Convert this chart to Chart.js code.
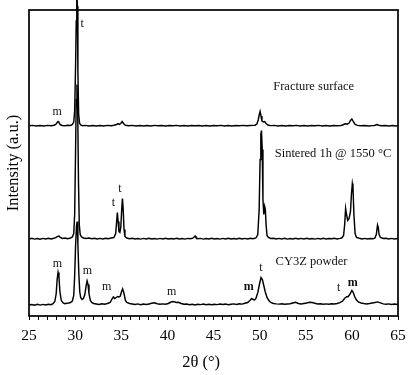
<!DOCTYPE html>
<html>
<head>
<meta charset="utf-8">
<script src="https://cdn.jsdelivr.net/npm/chart.js@4/dist/chart.umd.min.js"></script>
<style>
html,body{margin:0;padding:0;background:#fff;}
#wrap{width:414px;height:375px;position:relative;}
</style>
</head>
<body>
<div id="wrap"><canvas id="c" width="414" height="375"></canvas></div>
<script>
// ---- data (2θ in degrees, intensity in arbitrary units above each pattern's baseline) ----
const fracture = [
[25.0,0.2],[25.4,0.6],[25.8,0.0],[26.2,0.5],[26.6,0.1],[27.0,0.6],[27.4,0.3],[27.7,0.8],[27.9,1.6],[28.05,3.5],[28.15,4.5],[28.25,3.5],[28.4,1.2],[28.6,0.5],[28.9,0.3],[29.2,0.7],[29.5,0.6],[29.7,1.5],[29.85,4],[29.95,15],[30.05,60],[30.12,105],[30.18,140],[30.24,120],[30.3,55],[30.38,12],[30.48,3],[30.6,1],[30.8,0.3],[31.1,0.6],[31.5,0.1],[31.9,0.5],[32.3,0.0],[32.7,0.5],[33.1,0.1],[33.5,0.6],[33.9,0.3],[34.2,0.8],[34.5,1.5],[34.65,2.4],[34.8,1.6],[34.95,2.5],[35.1,4.5],[35.25,2.5],[35.45,0.8],[35.8,0.3],[36.2,0.6],[36.6,0.1],[37.0,0.5],[37.4,0.0],[37.8,0.4],[38.2,0.1],[38.6,0.6],[39.0,0.2],[39.4,0.5],[39.8,0.0],[40.2,0.4],[40.6,0.2],[41.0,0.6],[41.4,0.1],[41.8,0.5],[42.2,0.0],[42.6,0.4],[43.0,0.2],[43.4,0.5],[43.8,0.0],[44.2,0.4],[44.6,0.1],[45.0,0.5],[45.4,0.2],[45.8,0.6],[46.2,0.1],[46.6,0.4],[47.0,0.0],[47.4,0.5],[47.8,0.2],[48.2,0.6],[48.6,0.3],[49.0,0.5],[49.3,0.6],[49.5,0.8],[49.7,2],[49.85,6],[49.95,11],[50.05,14.5],[50.15,10],[50.25,5],[50.4,4],[50.55,4.5],[50.7,2.5],[50.9,1],[51.2,0.4],[51.6,0.6],[52.0,0.1],[52.4,0.5],[52.8,0.0],[53.2,0.4],[53.6,0.2],[54.0,0.6],[54.4,0.1],[54.8,0.5],[55.2,0.0],[55.6,0.4],[56.0,0.2],[56.4,0.6],[56.8,0.1],[57.2,0.5],[57.6,0.0],[58.0,0.4],[58.4,0.2],[58.8,0.5],[59.0,1],[59.2,2],[59.35,2.2],[59.5,1.8],[59.7,3],[59.85,5.5],[60.0,7],[60.15,4.5],[60.35,1.5],[60.6,0.6],[61.0,0.2],[61.4,0.5],[61.8,0.0],[62.2,0.4],[62.45,0.5],[62.6,1],[62.75,1.5],[62.9,0.8],[63.2,0.3],[63.6,0.5],[64.0,0.0],[64.4,0.4],[64.8,0.1],[65.0,0.4]
];
const sintered = [
[25.0,0.5],[25.3,1.2],[25.6,0.4],[25.9,1.0],[26.2,0.3],[26.5,1.1],[26.8,0.5],[27.1,1.2],[27.4,0.6],[27.7,1.3],[27.9,1.8],[28.1,3],[28.25,3.5],[28.4,2],[28.6,1],[28.9,1.4],[29.2,0.8],[29.5,1.5],[29.7,2.5],[29.85,6],[29.95,25],[30.05,90],[30.12,140],[30.2,155],[30.28,130],[30.36,60],[30.45,15],[30.55,5],[30.7,2.5],[30.9,1.5],[31.2,1],[31.5,1.4],[31.8,0.7],[32.1,1.2],[32.4,0.5],[32.7,1.1],[33.0,0.6],[33.3,1.2],[33.6,0.8],[33.9,1.5],[34.2,2],[34.4,6],[34.5,18],[34.58,27],[34.66,18],[34.75,8],[34.85,7],[34.95,12],[35.05,30],[35.13,41],[35.21,30],[35.3,10],[35.4,3],[35.6,1.5],[35.9,0.8],[36.2,1.2],[36.5,0.5],[36.8,1.0],[37.1,0.4],[37.4,1.1],[37.7,0.6],[38.0,1.2],[38.3,0.5],[38.6,1.0],[38.9,0.4],[39.2,1.1],[39.5,0.6],[39.8,1.2],[40.1,0.5],[40.4,1.0],[40.7,0.6],[41.0,1.2],[41.3,0.5],[41.6,1.0],[41.9,0.4],[42.2,1.1],[42.5,0.7],[42.75,1.4],[42.9,2.5],[43.0,3.5],[43.1,2],[43.3,0.8],[43.6,1.1],[43.9,0.4],[44.2,1.0],[44.5,0.5],[44.8,1.2],[45.1,0.6],[45.4,1.0],[45.7,0.4],[46.0,1.1],[46.3,0.6],[46.6,1.2],[46.9,0.5],[47.2,1.0],[47.5,0.6],[47.8,1.2],[48.1,0.5],[48.4,1.1],[48.7,0.6],[49.0,1.2],[49.3,0.8],[49.6,1.5],[49.8,5],[49.95,30],[50.05,80],[50.13,105],[50.2,109],[50.28,90],[50.36,40],[50.45,25],[50.55,33],[50.62,30],[50.7,15],[50.8,4],[50.95,2],[51.2,1],[51.5,1.3],[51.8,0.5],[52.1,1.1],[52.4,0.6],[52.7,1.2],[53.0,0.4],[53.3,1.0],[53.6,0.6],[53.9,1.2],[54.2,0.5],[54.5,1.1],[54.8,0.6],[55.1,1.2],[55.4,0.5],[55.7,1.0],[56.0,0.4],[56.3,1.1],[56.6,0.6],[56.9,1.2],[57.2,0.5],[57.5,1.0],[57.8,0.7],[58.1,1.2],[58.4,0.6],[58.7,1.1],[58.9,1.5],[59.1,4],[59.22,15],[59.32,31],[59.42,25],[59.55,19],[59.7,21],[59.85,28],[59.95,45],[60.05,56],[60.12,52],[60.22,25],[60.35,6],[60.5,2],[60.8,1.2],[61.1,0.6],[61.4,1.1],[61.7,0.5],[62.0,1.0],[62.3,0.7],[62.5,1.5],[62.65,5],[62.78,14.5],[62.86,12],[62.95,5],[63.1,2],[63.4,1],[63.7,1.2],[64.0,0.5],[64.3,1.1],[64.6,0.6],[65.0,1.0]
];
const powder = [
[25.0,0.5],[25.3,1],[25.6,0.2],[25.9,1.2],[26.2,0.4],[26.5,1.1],[26.8,0.6],[27.1,1.3],[27.4,0.8],[27.6,1.8],[27.8,4],[27.95,12],[28.05,26],[28.15,33],[28.25,28],[28.35,14],[28.5,5],[28.7,2.5],[28.9,1.8],[29.1,2.2],[29.3,2.5],[29.5,3],[29.7,4.5],[29.85,10],[29.95,30],[30.05,60],[30.15,80],[30.22,84],[30.3,62],[30.4,32],[30.5,14],[30.6,8],[30.75,6],[30.9,7],[31.05,11],[31.2,20],[31.3,24.5],[31.4,21],[31.5,12],[31.65,5],[31.8,3],[32.0,2],[32.3,1.5],[32.6,1],[32.9,1.8],[33.2,1.2],[33.5,2],[33.8,3],[34.0,6.5],[34.15,8.5],[34.3,7],[34.45,8],[34.6,9],[34.75,8.5],[34.9,9.5],[35.0,13],[35.15,16.5],[35.3,12],[35.45,5],[35.6,3],[35.9,2],[36.2,1.5],[36.5,1],[36.8,1.6],[37.1,0.8],[37.4,1.4],[37.7,1],[38.0,1.5],[38.3,2.2],[38.6,2.8],[38.9,1.8],[39.2,1.2],[39.5,1.6],[39.8,1.2],[40.1,2],[40.4,3.5],[40.6,4],[40.8,3.5],[41.0,3],[41.2,3.2],[41.5,2],[41.8,1.2],[42.1,1.5],[42.4,0.8],[42.7,1.2],[43.0,0.6],[43.3,1.3],[43.6,0.9],[43.9,1.4],[44.2,0.7],[44.5,1.2],[44.8,0.8],[45.1,1.3],[45.4,0.9],[45.7,1.4],[46.0,1],[46.3,1.5],[46.6,0.8],[46.9,1.3],[47.2,1.6],[47.5,1.1],[47.8,1.8],[48.1,1.4],[48.4,2.2],[48.7,3],[48.95,5],[49.15,7],[49.3,6],[49.45,5.5],[49.6,7],[49.8,13],[50.0,22],[50.15,28],[50.3,26],[50.45,20],[50.6,14],[50.8,8],[51.0,5],[51.2,3],[51.5,2],[51.8,1.6],[52.1,1.4],[52.4,1.8],[52.7,1.2],[53.0,1.5],[53.3,1.8],[53.6,2.5],[53.9,3.2],[54.2,2],[54.5,1.5],[54.8,2],[55.1,2.5],[55.4,3.2],[55.7,3],[56.0,2.2],[56.3,1.6],[56.6,1.8],[56.9,1.3],[57.2,1.6],[57.5,1.2],[57.8,1.8],[58.1,1.5],[58.4,2],[58.7,2.8],[59.0,4.5],[59.2,7],[59.4,8.5],[59.6,9],[59.8,11.5],[60.0,15],[60.15,13],[60.3,9],[60.5,5.5],[60.7,3.5],[61.0,2.5],[61.3,2],[61.6,1.6],[61.9,2],[62.2,2.5],[62.5,3],[62.8,3.6],[63.1,2.6],[63.4,1.6],[63.7,1.2],[64.0,1.6],[64.3,1],[64.6,1.4],[65.0,1]
];
// vertical offsets of the stacked patterns
const fractureOffset = 190;
const sinteredOffset = 76.5;
const powderOffset = 10.5;

// peak / pattern labels: [text, 2θ, level, bold]
const labels = [
["t",30.75,292,false],["m",28.04,204,false],
["Fracture surface",55.86,229.3,false],
["Sintered 1h @ 1550 °C",57.95,162,false],
["t",34.14,112.7,false],["t",34.86,126.7,false],
["CY3Z powder",55.62,54.3,false],
["m",28.07,52,false],["m",31.32,45,false],["m",33.42,28.7,false],["m",40.47,24.3,false],
["m",48.82,29.3,true],["t",50.15,47.7,false],["t",58.57,28.3,false],["m",60.09,32.7,true]
];

const toPts = (arr, off) => arr.map(p => ({x:p[0], y:p[1] + off}));

const SERIF = "'Liberation Serif','Times New Roman',serif";

const framePlugin = {
  id:'frame',
  afterDraw(chart){
    const {ctx, chartArea:a, scales} = chart;
    ctx.save();
    ctx.strokeStyle = '#000';
    ctx.lineWidth = 1.7;
    ctx.strokeRect(a.left, a.top, a.right - a.left, a.bottom - a.top);
    ctx.fillStyle = '#111';
    ctx.textAlign = 'center';
    ctx.textBaseline = 'middle';
    labels.forEach(l => {
      const isLong = l[0].length > 2;
      ctx.font = (l[3] ? 'bold ' : '') + (isLong ? '12.5px ' : '12px ') + SERIF;
      ctx.fillText(l[0], scales.x.getPixelForValue(l[1]), scales.y.getPixelForValue(l[2]));
    });
    ctx.restore();
  }
};

const lineDs = (data) => ({
  data, borderColor:'#000', borderWidth:1.45, pointRadius:0, tension:0, fill:false, clip:false
});

new Chart(document.getElementById('c'), {
  type:'line',
  data:{
    datasets:[
      lineDs(toPts(fracture, fractureOffset)),
      lineDs(toPts(sintered, sinteredOffset)),
      lineDs(toPts(powder, powderOffset))
    ]
  },
  options:{
    responsive:false,
    animation:false,
    events:[],
    layout:{padding:{top:10,right:16,left:0,bottom:0}},
    plugins:{legend:{display:false}, tooltip:{enabled:false}},
    scales:{
      x:{
        type:'linear', min:25, max:65,
        afterBuildTicks(s){ s.ticks = []; for (let v = 25; v <= 65; v++) s.ticks.push({value:v}); },
        ticks:{autoSkip:false, maxRotation:0, padding:7, color:'#000',
          font:{family:SERIF, size:15.5},
          callback:(v) => (v % 5 === 0 ? String(v) : '')},
        grid:{display:true, drawOnChartArea:false, drawTicks:true, tickLength:4, color:'#000', lineWidth:1},
        border:{display:false},
        title:{display:true, text:'2θ (°)\u00a0\u00a0\u00a0\u00a0\u00a0\u00a0', color:'#000', font:{family:SERIF, size:16.5}, padding:{top:0,bottom:2}},
        afterFit(s){ s.height = 59; }
      },
      y:{
        min:0, max:306,
        ticks:{display:false},
        grid:{display:false},
        border:{display:false},
        title:{display:true, text:'Intensity (a.u.)', color:'#000', font:{family:SERIF, size:16.5}, padding:{top:4,bottom:0}},
        afterFit(s){ s.width = 29; }
      }
    }
  },
  plugins:[framePlugin]
});
</script>
</body>
</html>
